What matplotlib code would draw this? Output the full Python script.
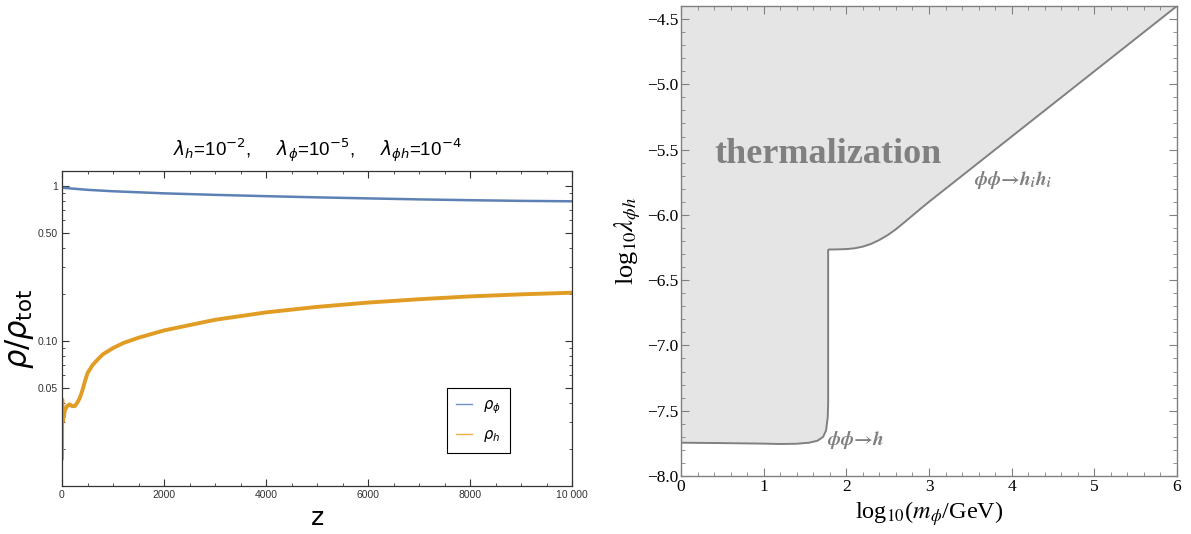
import numpy as np
import matplotlib
matplotlib.use("Agg")
import matplotlib.pyplot as plt
from matplotlib.lines import Line2D
from matplotlib.ticker import (FixedLocator, MultipleLocator, NullFormatter,
                               FixedFormatter, FuncFormatter)

# bold-italic serif for the process labels (custom math font set)
plt.rcParams["mathtext.it"] = "STIXGeneral:italic:bold"
plt.rcParams["mathtext.rm"] = "STIXGeneral:bold"
plt.rcParams["mathtext.fallback"] = "stix"

# =====================================================
# Data: left panel (energy fractions vs z)
# =====================================================
z_h = [0, 5, 10, 20, 30, 60, 100, 150, 200, 250, 300, 350, 400, 450, 500,
       600, 700, 800, 1000, 1200, 1500, 2000, 3000, 4000, 5000, 6000,
       7000, 8000, 9000, 10000]
rho_h = [0.017, 0.042, 0.030, 0.034, 0.032, 0.036, 0.038, 0.039, 0.038,
         0.038, 0.040, 0.043, 0.048, 0.055, 0.062, 0.070, 0.076, 0.082,
         0.090, 0.097, 0.105, 0.117, 0.137, 0.153, 0.166, 0.177, 0.186,
         0.194, 0.200, 0.205]

z_phi = [0, 500, 1000, 2000, 3000, 4000, 5000, 6000, 7000, 8000, 9000, 10000]
rho_phi = [0.975, 0.945, 0.925, 0.897, 0.877, 0.860, 0.845, 0.832, 0.820,
           0.810, 0.802, 0.797]

# =====================================================
# Data: right panel (thermalization boundary)
# =====================================================
log_m = [0.0, 0.5, 1.0, 1.2, 1.4, 1.55, 1.65, 1.72, 1.755, 1.775, 1.78,
         1.78, 1.79, 1.85, 2.0, 2.1, 2.2, 2.3, 2.4, 2.5, 2.6, 2.7, 2.8,
         2.9, 3.0, 4.0, 5.0, 6.0]
log_lam = [-7.745, -7.748, -7.752, -7.755, -7.753, -7.745, -7.73, -7.70,
           -7.65, -7.55, -7.45, -6.27, -6.265, -6.265, -6.262, -6.256,
           -6.243, -6.222, -6.192, -6.155, -6.11, -6.058, -6.005, -5.952,
           -5.90, -5.40, -4.90, -4.40]

blue = "#5E81B5"
orange = "#E19C24"
gray = "#808080"

fig = plt.figure(figsize=(11.91, 5.34), dpi=100)

# =====================================================
# Left panel
# =====================================================
ax1 = fig.add_axes([62 / 1191, 1 - 486 / 534, 510 / 1191, 315 / 534])
ax1.plot(z_phi, rho_phi, color=blue, lw=1.8, solid_capstyle="butt")
ax1.plot(z_h, rho_h, color=orange, lw=2.8, solid_capstyle="butt")
ax1.set_yscale("log")
ax1.set_xlim(0, 10000)
ax1.set_ylim(0.0116, 1.25)

ax1.yaxis.set_major_locator(FixedLocator([0.05, 0.1, 0.5, 1.0]))
ax1.yaxis.set_major_formatter(FixedFormatter(["0.05", "0.10", "0.50", "1"]))
minor_y = [0.02, 0.03, 0.04, 0.06, 0.07, 0.08, 0.09, 0.2, 0.3, 0.4,
           0.6, 0.7, 0.8, 0.9]
ax1.yaxis.set_minor_locator(FixedLocator(minor_y))
ax1.yaxis.set_minor_formatter(NullFormatter())
ax1.xaxis.set_minor_locator(MultipleLocator(500))
ax1.set_xticks([0, 2000, 4000, 6000, 8000, 10000])
ax1.set_xticklabels(["0", "2000", "4000", "6000", "8000", "10 000"])

for s in ax1.spines.values():
    s.set_color("#333333")
    s.set_linewidth(0.9)
ax1.tick_params(which="both", direction="in", top=True, right=True,
                colors="#333333", labelsize=7.5, pad=3,
                labelcolor="#333333")
ax1.tick_params(which="major", length=5, width=0.8)
ax1.tick_params(which="minor", length=2.5, width=0.6)
for lab in ax1.get_xticklabels() + ax1.get_yticklabels():
    lab.set_family("Liberation Sans")

ax1.set_xlabel("z", fontsize=18, family="DejaVu Sans", labelpad=4)
ax1.set_ylabel(r"$\rho/\rho_{\mathrm{tot}}$", fontsize=22, labelpad=1)

ax1.text(0.5, 1.044,
         r"$\lambda_h$=10$^{-2}$,     $\lambda_\phi$=10$^{-5}$,     "
         r"$\lambda_{\phi h}$=10$^{-4}$",
         transform=ax1.transAxes, ha="center", va="baseline",
         fontsize=13.5, family="Liberation Sans")

handles = [Line2D([], [], color="#6F92C8", lw=1.0),
           Line2D([], [], color="#EDB04A", lw=1.0)]
leg = ax1.legend(handles, [r"$\rho_\phi$", r"$\rho_h$"], loc="lower right",
                 bbox_to_anchor=(0.878, 0.105), borderaxespad=0,
                 fontsize=10.5, fancybox=False, framealpha=1,
                 edgecolor="black", handlelength=1.1, handletextpad=0.8,
                 borderpad=0.6, labelspacing=0.8)
leg.get_frame().set_linewidth(0.8)

# =====================================================
# Right panel
# =====================================================
ax2 = fig.add_axes([681 / 1191, 1 - 476 / 534, 496 / 1191, 470 / 534])
top = -4.4
ax2.fill(list(log_m) + [6.0, 0.0], list(log_lam) + [top, top],
         color="#e5e5e5", lw=0)
ax2.plot(log_m, log_lam, color=gray, lw=1.4)
ax2.set_xlim(0, 6)
ax2.set_ylim(-8.0, top)

ax2.xaxis.set_major_locator(MultipleLocator(1))
ax2.xaxis.set_minor_locator(MultipleLocator(0.2))
ax2.yaxis.set_major_locator(MultipleLocator(0.5))
ax2.yaxis.set_minor_locator(MultipleLocator(0.1))
ax2.yaxis.set_major_formatter(FuncFormatter(
    lambda v, p: ("\u2212%.1f" % abs(v)) if v < 0 else "%.1f" % v))
ax2.xaxis.set_major_formatter(FuncFormatter(lambda v, p: "%d" % round(v)))

for s in ax2.spines.values():
    s.set_color(gray)
    s.set_linewidth(1.0)
ax2.tick_params(which="both", direction="in", top=True, right=True,
                colors=gray, labelcolor="black", labelsize=12.5, pad=2)
ax2.tick_params(which="major", length=6, width=0.8)
ax2.tick_params(which="minor", length=3, width=0.6)
for lab in ax2.get_xticklabels() + ax2.get_yticklabels():
    lab.set_family("Liberation Serif")

ax2.set_xlabel(r"log$_{10}$($m_\phi$/GeV)", fontsize=17.5,
               family="Liberation Serif", math_fontfamily="stix", labelpad=3)
ax2.set_ylabel(r"log$_{10}\lambda_{\phi h}$", fontsize=19,
               family="Liberation Serif", math_fontfamily="stix", labelpad=3)

ax2.text(1.78, -5.60, "thermalization", ha="center", va="baseline",
         fontsize=26, fontweight="bold", family="Liberation Serif",
         color=gray)
ax2.text(1.77, -7.76, "\u03d5\u03d5$\u2192$h", ha="left", va="baseline",
         fontsize=14, color=gray, family="STIXGeneral",
         fontweight="bold", fontstyle="italic", math_fontfamily="custom")
ax2.text(3.55, -5.77, "\u03d5\u03d5$\u2192$h$_i$h$_i$", ha="left",
         va="baseline", fontsize=14, color=gray, family="STIXGeneral",
         fontweight="bold", fontstyle="italic", math_fontfamily="custom")

fig.savefig("out.png", dpi=100)
